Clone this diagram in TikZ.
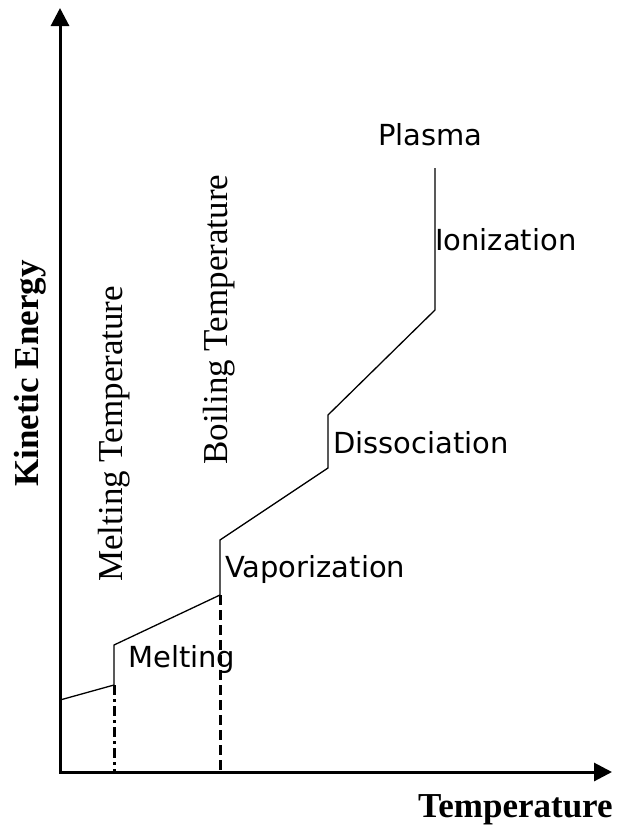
\documentclass[tikz,border=0pt]{standalone}
\usepackage{fontspec}
\setmainfont{Liberation Serif}
\newfontfamily\phasefont{DejaVu Sans}
\usetikzlibrary{arrows.meta}

\begin{document}
\begin{tikzpicture}[x=1pt, y=-1pt,
    axis/.style={line width=3pt, {Triangle[length=18pt,width=18pt]}-{Triangle[length=18pt,width=18pt]}},
    curve/.style={line width=1.3pt, line join=miter},
    phase/.style={anchor=base west, inner sep=0pt,
                  font=\phasefont\fontsize{29}{31}\selectfont},
    axlabel/.style={anchor=base west, inner sep=0pt,
                    font=\bfseries\fontsize{35}{37}\selectfont},
    templabel/.style={rotate=90, anchor=base west, inner sep=0pt,
                      font=\fontsize{35}{37}\selectfont},
    meltline/.style={line width=3pt, dash pattern=on 10pt off 4pt on 3pt off 4pt},
    boilline/.style={line width=3pt, dash pattern=on 10pt off 5pt}
  ]
  \useasboundingbox (0,0) rectangle (624,827);

  % axes
  \coordinate (ytip) at (60,8);
  \coordinate (o)    at (60,772);
  \coordinate (xtip) at (612,772);
  \draw[axis] (ytip) -- (o) -- (xtip);

  % heating curve
  \coordinate (c0) at (60,700);
  \coordinate (c1) at (114,685);
  \coordinate (c2) at (114,645);
  \coordinate (c3) at (220,595);
  \coordinate (c4) at (220,540);
  \coordinate (c5) at (328,468);
  \coordinate (c6) at (328,415);
  \coordinate (c7) at (435,310);
  \coordinate (c8) at (435,168);
  \draw[curve] (c0) -- (c1) -- (c2) -- (c3) -- (c4) -- (c5) -- (c6) -- (c7) -- (c8);

  \coordinate (m0) at (114,772);
  \coordinate (b0) at (220,772);
  \draw[meltline] (c1) -- (m0);
  \draw[boilline] (c3) -- (b0);

  \node[phase] (melt)  at (128,667) {Melting};
  \node[phase] (vap)   at (225,577) {Vaporization};
  \node[phase] (diss)  at (333,453) {Dissociation};
  \node[phase] (ion)   at (435,250) {Ionization};
  \node[phase] (plasma)at (378,145) {Plasma};

  \node[templabel] (tmelt) at (122,582) {Melting Temperature};
  \node[templabel] (tboil) at (227,465) {Boiling Temperature};

  \node[axlabel, rotate=90] (ke) at (38,487) {Kinetic Energy};
  \node[axlabel]            (te) at (418,817) {Temperature};
\end{tikzpicture}
\end{document}
